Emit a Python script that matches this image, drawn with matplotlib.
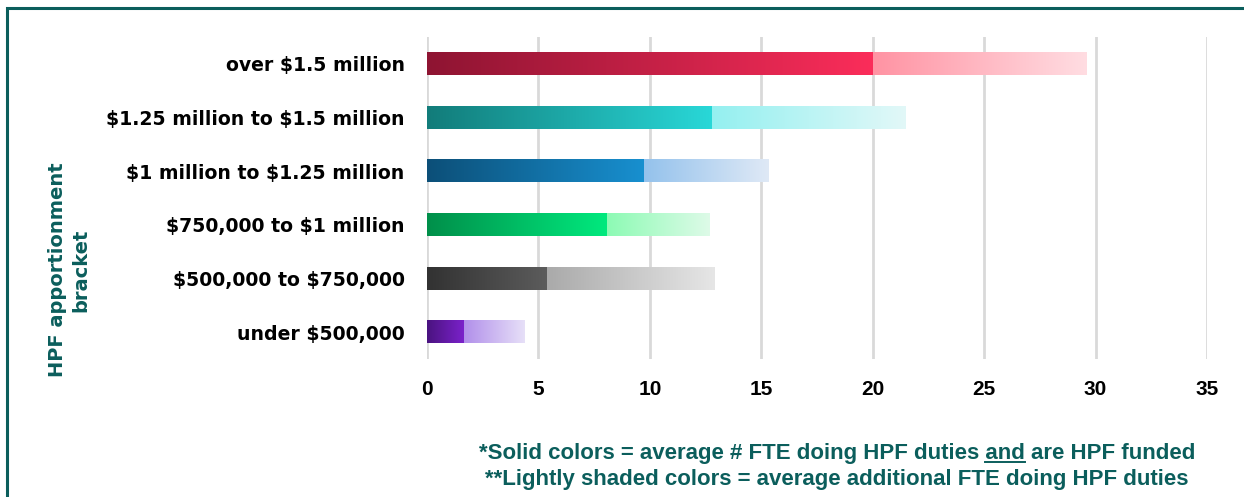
import numpy as np
import matplotlib.pyplot as plt
from matplotlib.colors import LinearSegmentedColormap
from matplotlib.lines import Line2D
from matplotlib.patches import Rectangle

brackets = [
    "over $1.5 million",
    "$1.25 million to $1.5 million",
    "$1 million to $1.25 million",
    "$750,000 to $1 million",
    "$500,000 to $750,000",
    "under $500,000",
]
# average FTE doing HPF duties and HPF funded
funded_fte = [20.0, 12.8, 9.75, 8.1, 5.4, 1.67]
# average additional FTE doing HPF duties
additional_fte = [9.6, 8.7, 5.6, 4.6, 7.5, 2.7]

# gradient end colours (dark -> bright) for the solid part, (mid -> pale) for the shaded part
solid_grad = [
    ("#8e1432", "#fb2d5a"),
    ("#127c7a", "#29d8d8"),
    ("#0c4f78", "#1890d0"),
    ("#008f4a", "#00ea7e"),
    ("#323232", "#5c5c5c"),
    ("#4a1380", "#7c22cc"),
]
shade_grad = [
    ("#ff93a3", "#ffdde2"),
    ("#94f0f0", "#e2f8f8"),
    ("#94c2ec", "#dfe9f6"),
    ("#8cfab4", "#defbe8"),
    ("#aaaaaa", "#e6e6e6"),
    ("#b18fea", "#e7e0f8"),
]

plt.rcParams["text.parse_math"] = False

teal = "#0b5e5c"
label_font = ["DejaVu Sans"]
tick_font = ["Liberation Sans", "DejaVu Sans"]

fig = plt.figure(figsize=(12.44, 4.97), dpi=100)
ax = fig.add_axes([0.3432, 0.2777, 0.9703 - 0.3432, 0.9256 - 0.2777])

y = np.arange(len(brackets))
h = 0.42
solid_bars = ax.barh(y, funded_fte, height=h, color="none")
shade_bars = ax.barh(y, additional_fte, left=funded_fte, height=h, color="none")

ramp = np.linspace(0, 1, 256).reshape(1, -1)


def fill_gradient(rect, c0, c1):
    cmap = LinearSegmentedColormap.from_list("g", [c0, c1])
    x0, y0 = rect.get_x(), rect.get_y()
    ax.imshow(ramp, cmap=cmap, aspect="auto", interpolation="bicubic",
              extent=[x0, x0 + rect.get_width(), y0 + rect.get_height(), y0],
              zorder=3)


for i in range(len(brackets)):
    fill_gradient(solid_bars[i], *solid_grad[i])
    fill_gradient(shade_bars[i], *shade_grad[i])

ax.set_xlim(0, 35)
ax.set_ylim(5.5, -0.5)
ax.set_xticks(range(0, 36, 5))
ax.set_yticks(y)
ax.set_yticklabels(brackets, fontfamily=label_font, fontweight="bold", fontsize=13.6)
ax.xaxis.grid(True, color="#d9d9d9", lw=2)
ax.set_axisbelow(True)
for s in ax.spines.values():
    s.set_visible(False)
ax.tick_params(axis="y", length=0, pad=16)
ax.tick_params(axis="x", length=0, pad=15)
for lab in ax.get_xticklabels():
    lab.set_fontfamily(tick_font)
    lab.set_fontweight("bold")
    lab.set_fontsize(15)

fig.text(69 / 1244, 1 - 270 / 497, "HPF apportionment\nbracket", rotation=90,
         ha="center", va="center", color=teal, fontweight="bold",
         fontfamily=label_font, fontsize=14, linespacing=1.3)

note1 = "*Solid colors = average # FTE doing HPF duties and are HPF funded"
note2 = "**Lightly shaded colors = average additional FTE doing HPF duties"
note_kw = dict(ha="center", va="center", color=teal, fontweight="bold",
               fontfamily=tick_font, fontsize=16)
cx = 837 / 1244
t1 = fig.text(cx, 1 - 453 / 497, note1, **note_kw)
fig.text(cx, 1 - 479 / 497, note2, **note_kw)

# underline the word "and" in the first note
fig.canvas.draw()
r = fig.canvas.get_renderer()
bb = t1.get_window_extent(r)
tmp = fig.text(0, 0, note1[:note1.index(" and ") + 4], **note_kw)
w_upto = tmp.get_window_extent(r).width
tmp.remove()
tmp = fig.text(0, 0, "and", **note_kw)
w_and = tmp.get_window_extent(r).width
tmp.remove()
ux1 = bb.x0 + w_upto
ux0 = ux1 - w_and
uy = bb.y0 + 2
fig.add_artist(Line2D([ux0, ux1], [uy, uy], transform=None, color=teal, lw=1.4))

# outer frame, open on the right and bottom
fig.add_artist(Rectangle((6.5 / 1244, -0.05), 1.2, 1.05 - 8 / 497,
                         transform=fig.transFigure, fill=False, ec=teal, lw=2.2))

fig.savefig("out.png", dpi=100)
